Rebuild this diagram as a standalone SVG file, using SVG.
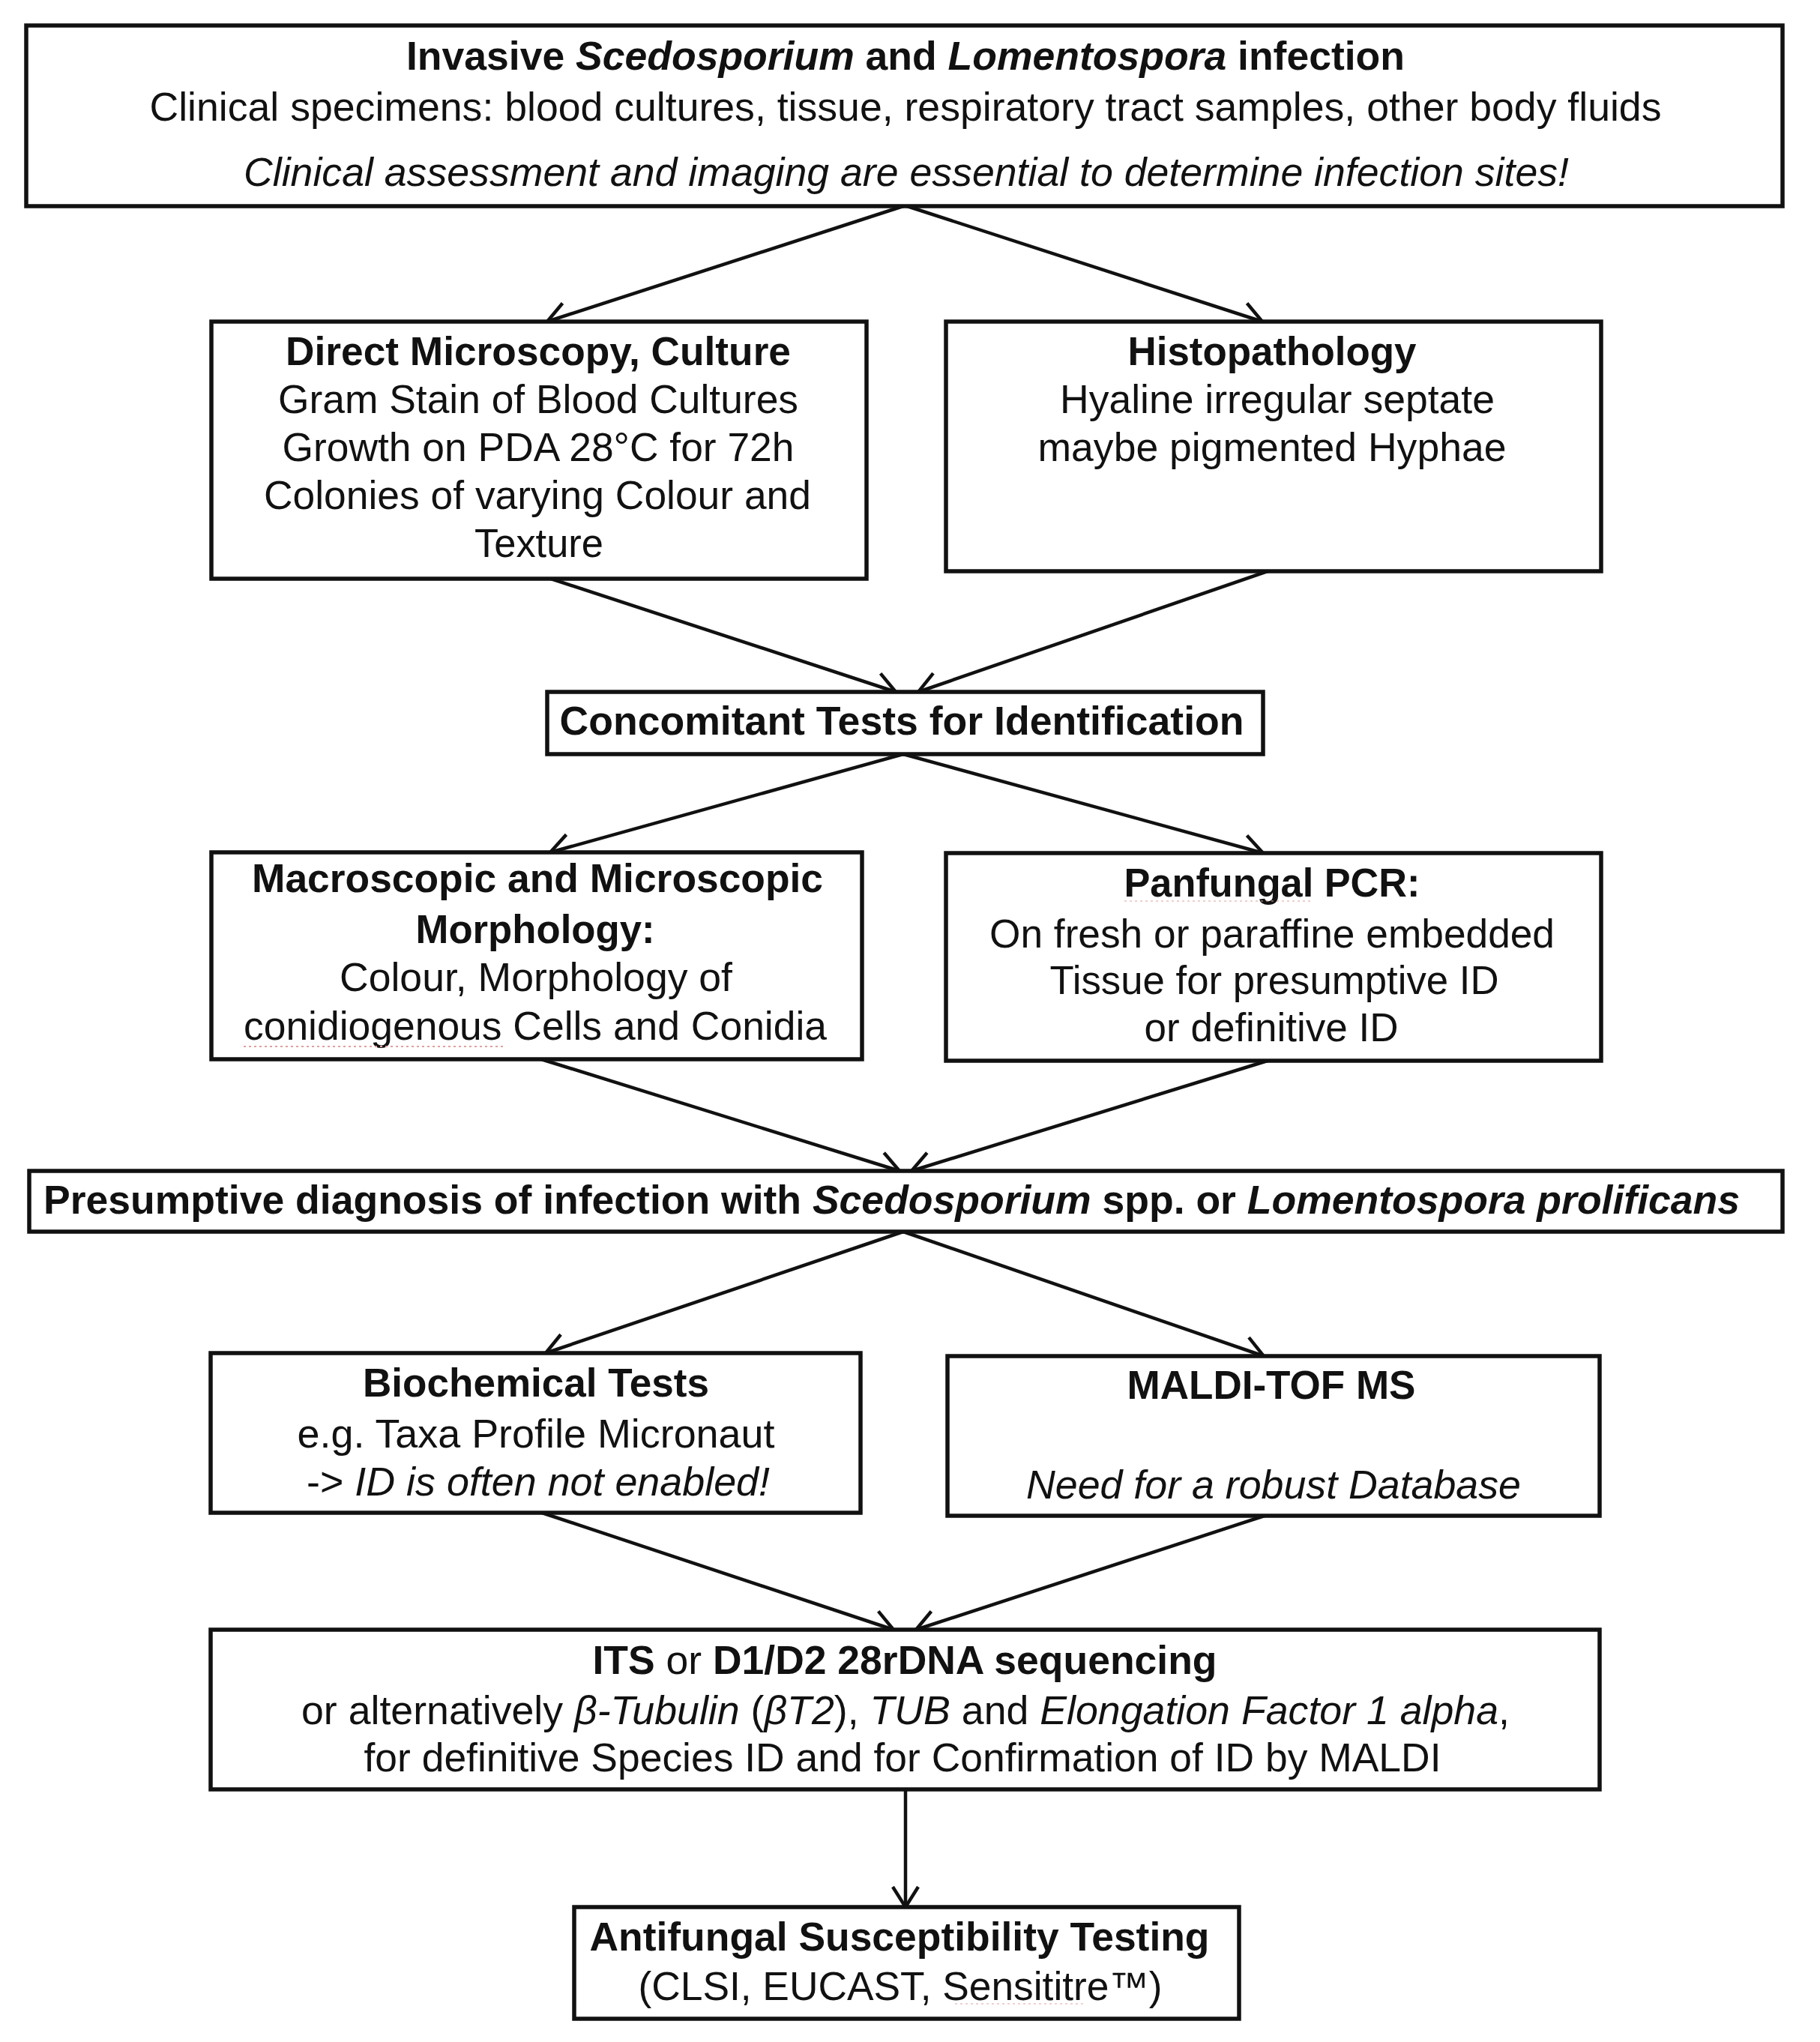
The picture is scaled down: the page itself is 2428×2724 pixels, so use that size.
<svg xmlns="http://www.w3.org/2000/svg" width="2428" height="2724" viewBox="0 0 2428 2724">
<style>
.box{fill:#fff;stroke:#111;stroke-width:5.5}
.t{font-family:"Liberation Sans",Arial,Helvetica,sans-serif;font-size:53px;fill:#111;text-anchor:middle}
.b{font-weight:bold}
.i{font-style:italic}
.c{fill:none;stroke:#111;stroke-width:4.5}
.sp{fill:none;stroke:#e0a0a0;stroke-width:2;stroke-dasharray:3 4}
</style>
<defs>
<marker id="ah" viewBox="0 0 30 38" refX="28" refY="19" markerWidth="30" markerHeight="38" markerUnits="userSpaceOnUse" orient="auto" overflow="visible">
<path d="M1,2 L28,19 L1,36" fill="none" stroke="#111" stroke-width="4.5"/>
</marker>
</defs>
<rect width="2428" height="2724" fill="#fff"/>

<g id="connectors">
<line class="c" x1="1205" y1="275" x2="730" y2="429" marker-end="url(#ah)"/>
<line class="c" x1="1210" y1="275" x2="1684" y2="429" marker-end="url(#ah)"/>
<line class="c" x1="735" y1="772" x2="1195" y2="923" marker-end="url(#ah)"/>
<line class="c" x1="1691" y1="762" x2="1225" y2="923" marker-end="url(#ah)"/>
<line class="c" x1="1205" y1="1006" x2="734" y2="1137" marker-end="url(#ah)"/>
<line class="c" x1="1205" y1="1006" x2="1685" y2="1138" marker-end="url(#ah)"/>
<line class="c" x1="722" y1="1413" x2="1200" y2="1562" marker-end="url(#ah)"/>
<line class="c" x1="1691" y1="1415" x2="1216" y2="1562" marker-end="url(#ah)"/>
<line class="c" x1="1205" y1="1643" x2="728" y2="1805" marker-end="url(#ah)"/>
<line class="c" x1="1205" y1="1643" x2="1686" y2="1809" marker-end="url(#ah)"/>
<line class="c" x1="723" y1="2018" x2="1192" y2="2174" marker-end="url(#ah)"/>
<line class="c" x1="1687" y1="2022" x2="1222" y2="2174" marker-end="url(#ah)"/>
<line class="c" x1="1208" y1="2387" x2="1208" y2="2544" marker-end="url(#ah)"/>
</g>

<g id="n-top">
<rect class="box" x="35" y="34" width="2343" height="241"/>
<text class="t b" x="1208" y="93" textLength="1332" lengthAdjust="spacingAndGlyphs">Invasive <tspan class="i">Scedosporium</tspan> and <tspan class="i">Lomentospora</tspan> infection</text>
<text class="t" x="1208" y="161" textLength="2017" lengthAdjust="spacingAndGlyphs">Clinical specimens: blood cultures, tissue, respiratory tract samples, other body fluids</text>
<text class="t i" x="1209" y="248" textLength="1768" lengthAdjust="spacingAndGlyphs">Clinical assessment and imaging are essential to determine infection sites!</text>
</g>

<g id="n-direct">
<rect class="box" x="282" y="429" width="874" height="343"/>
<text class="t b" x="718" y="487" textLength="674" lengthAdjust="spacingAndGlyphs">Direct Microscopy, Culture</text>
<text class="t" x="718" y="551" textLength="694" lengthAdjust="spacingAndGlyphs">Gram Stain of Blood Cultures</text>
<text class="t" x="718" y="615" textLength="683" lengthAdjust="spacingAndGlyphs">Growth on PDA 28°C for 72h</text>
<text class="t" x="717" y="679" textLength="730" lengthAdjust="spacingAndGlyphs">Colonies of varying Colour and</text>
<text class="t" x="719" y="743" textLength="172" lengthAdjust="spacingAndGlyphs">Texture</text>
</g>

<g id="n-histo">
<rect class="box" x="1262" y="429" width="874" height="333"/>
<text class="t b" x="1697" y="487" textLength="385" lengthAdjust="spacingAndGlyphs">Histopathology</text>
<text class="t" x="1704" y="551" textLength="580" lengthAdjust="spacingAndGlyphs">Hyaline irregular septate</text>
<text class="t" x="1697" y="615" textLength="625" lengthAdjust="spacingAndGlyphs">maybe pigmented Hyphae</text>
</g>

<g id="n-concomitant">
<rect class="box" x="730" y="923" width="955" height="83"/>
<text class="t b" x="1203" y="980" textLength="913" lengthAdjust="spacingAndGlyphs">Concomitant Tests for Identification</text>
</g>

<g id="n-macro">
<rect class="box" x="282" y="1137" width="868" height="276"/>
<text class="t b" x="717" y="1190" textLength="762" lengthAdjust="spacingAndGlyphs">Macroscopic and Microscopic</text>
<text class="t b" x="714" y="1258" textLength="319" lengthAdjust="spacingAndGlyphs">Morphology:</text>
<text class="t" x="715" y="1322" textLength="524" lengthAdjust="spacingAndGlyphs">Colour, Morphology of</text>
<text class="t" x="714" y="1387" textLength="778" lengthAdjust="spacingAndGlyphs">conidiogenous Cells and Conidia</text>
<line class="sp" x1="325" y1="1396" x2="671" y2="1396"/>
</g>

<g id="n-pcr">
<rect class="box" x="1262" y="1138" width="874" height="277"/>
<text class="t b" x="1697" y="1196" textLength="395" lengthAdjust="spacingAndGlyphs">Panfungal PCR:</text>
<line class="sp" x1="1500" y1="1202" x2="1748" y2="1202" opacity="0.5"/>
<text class="t" x="1697" y="1264" textLength="754" lengthAdjust="spacingAndGlyphs">On fresh or paraffine embedded</text>
<text class="t" x="1700" y="1326" textLength="599" lengthAdjust="spacingAndGlyphs">Tissue for presumptive ID</text>
<text class="t" x="1696" y="1389" textLength="339" lengthAdjust="spacingAndGlyphs">or definitive ID</text>
</g>

<g id="n-presumptive">
<rect class="box" x="39" y="1562" width="2339" height="81"/>
<text class="t b" x="58" y="1619" style="text-anchor:start" textLength="2263" lengthAdjust="spacingAndGlyphs">Presumptive diagnosis of infection with <tspan class="i">Scedosporium</tspan> spp. or <tspan class="i">Lomentospora prolificans</tspan></text>
</g>

<g id="n-biochem">
<rect class="box" x="281" y="1805" width="867" height="213"/>
<text class="t b" x="715" y="1863" textLength="462" lengthAdjust="spacingAndGlyphs">Biochemical Tests</text>
<text class="t" x="715" y="1931" textLength="637" lengthAdjust="spacingAndGlyphs">e.g. Taxa Profile Micronaut</text>
<text class="t" x="718" y="1995" textLength="618" lengthAdjust="spacingAndGlyphs">-&gt; <tspan class="i">ID is often not enabled!</tspan></text>
</g>

<g id="n-maldi">
<rect class="box" x="1264" y="1809" width="870" height="213"/>
<text class="t b" x="1696" y="1866" textLength="385" lengthAdjust="spacingAndGlyphs">MALDI-TOF MS</text>
<text class="t i" x="1699" y="1999" textLength="660" lengthAdjust="spacingAndGlyphs">Need for a robust Database</text>
</g>

<g id="n-its">
<rect class="box" x="281" y="2174" width="1853" height="213"/>
<text class="t" x="1207" y="2233" textLength="833" lengthAdjust="spacingAndGlyphs"><tspan class="b">ITS</tspan> or <tspan class="b">D1/D2 28rDNA sequencing</tspan></text>
<text class="t" x="1208" y="2300" textLength="1612" lengthAdjust="spacingAndGlyphs">or alternatively <tspan class="i">β-Tubulin</tspan> (<tspan class="i">βT2</tspan>), <tspan class="i">TUB</tspan> and <tspan class="i">Elongation Factor 1 alpha</tspan>,</text>
<text class="t" x="1204" y="2363" textLength="1437" lengthAdjust="spacingAndGlyphs">for definitive Species ID and for Confirmation of ID by MALDI</text>
</g>

<g id="n-afst">
<rect class="box" x="766" y="2544" width="887" height="149"/>
<text class="t b" x="1200" y="2602" textLength="827" lengthAdjust="spacingAndGlyphs">Antifungal Susceptibility Testing</text>
<text class="t" x="1201" y="2668" textLength="699" lengthAdjust="spacingAndGlyphs">(CLSI, EUCAST, Sensititre™)</text>
<line class="sp" x1="1274" y1="2673" x2="1446" y2="2673" opacity="0.5"/>
</g>
</svg>
